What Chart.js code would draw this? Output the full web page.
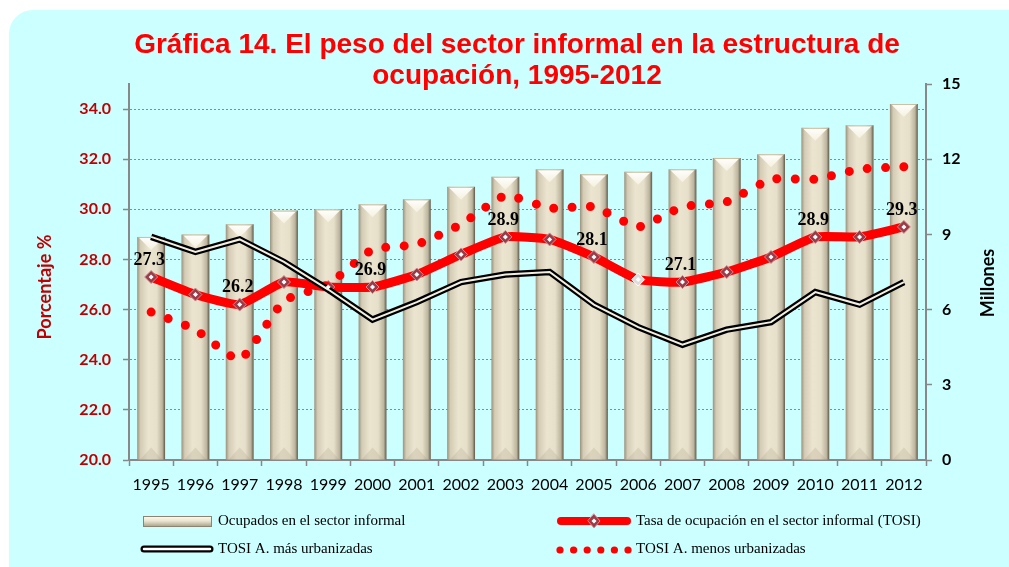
<!DOCTYPE html>
<html><head><meta charset="utf-8">
<script src="https://cdn.jsdelivr.net/npm/chart.js@4.4.1/dist/chart.umd.min.js"></script>
<style>html,body{margin:0;padding:0;background:#fff;}#wrap{position:relative;width:1009px;height:567px;}</style>
</head><body><div id="wrap"><canvas id="c" width="1009" height="567"></canvas></div>
<script>
const years = ['1995','1996','1997','1998','1999','2000','2001','2002','2003','2004','2005','2006','2007','2008','2009','2010','2011','2012'];
const ocupados = [8.9, 9.0, 9.4, 9.95, 10.0, 10.2, 10.4, 10.9, 11.3, 11.6, 11.4, 11.5, 11.6, 12.05, 12.2, 13.25, 13.35, 14.2];
const tosi = [27.3, 26.6, 26.2, 27.1, 26.9, 26.9, 27.4, 28.2, 28.9, 28.8, 28.1, 27.2, 27.1, 27.5, 28.1, 28.9, 28.9, 29.3];
const masUrbanizadas = [28.9, 28.3, 28.8, 27.9, 26.8, 25.6, 26.3, 27.1, 27.4, 27.5, 26.2, 25.3, 24.6, 25.2, 25.5, 26.7, 26.2, 27.1];
const menosUrbanizadas = [25.9, 25.2, 24.0, 26.35, 27.0, 28.4, 28.6, 29.4, 30.55, 30.05, 30.1, 29.3, 30.1, 30.3, 31.2, 31.2, 31.6, 31.7];
const labeledYears = ['1995','1997','2000','2003','2005','2007','2010','2012'];
const leftTicks = [20, 22, 24, 26, 28, 30, 32, 34];
const rightTicks = [0, 3, 6, 9, 12, 15];
const titleLines = ['Gráfica 14. El peso del sector informal en la estructura de', 'ocupación, 1995-2012'];

const panelPlugin = {
  id: 'panel',
  beforeDraw(chart) {
    const c = chart.ctx;
    c.save();
    c.fillStyle = '#ffffff';
    c.fillRect(0, 0, chart.width, chart.height);
    c.fillStyle = '#CCFFFF';
    c.beginPath();
    c.roundRect(9, 10, 1040, 620, 24);
    c.fill();
    c.restore();
  }
};

const bevelPlugin = {
  id: 'bevel',
  afterDatasetDraw(chart, args) {
    if (args.meta.type !== 'bar') return;
    const c = chart.ctx;
    c.save();
    args.meta.data.forEach(el => {
      const p = el.getProps(['x', 'y', 'width', 'base'], true);
      const l = p.x - p.width / 2, r = p.x + p.width / 2;
      const g = c.createLinearGradient(0, p.y, 0, p.y + 13);
      g.addColorStop(0, '#ffffff');
      g.addColorStop(1, 'rgba(255,253,240,0.55)');
      c.fillStyle = g;
      c.beginPath();
      c.moveTo(l + 2, p.y + 1);
      c.lineTo(r - 2, p.y + 1);
      c.lineTo(p.x, p.y + 13);
      c.closePath();
      c.fill();
      c.strokeStyle = 'rgba(200,190,160,0.9)';
      c.lineWidth = 1;
      c.beginPath();
      c.moveTo(l + 1, p.y + 0.5);
      c.lineTo(r - 1, p.y + 0.5);
      c.stroke();
      c.fillStyle = 'rgba(150,140,110,0.18)';
      c.beginPath();
      c.moveTo(l + 3, p.base);
      c.lineTo(p.x, p.base - 12);
      c.lineTo(r - 3, p.base);
      c.closePath();
      c.fill();
    });
    c.restore();
  }
};

const labelPlugin = {
  id: 'valueLabels',
  afterDatasetsDraw(chart) {
    const c = chart.ctx;
    const idx = chart.data.datasets.findIndex(d => d.id === 'tosi');
    const meta = chart.getDatasetMeta(idx);
    c.save();
    meta.data.forEach(pt => {
      c.fillStyle = '#ffffff';
      c.beginPath();
      c.moveTo(pt.x, pt.y - 2.5); c.lineTo(pt.x + 2.5, pt.y); c.lineTo(pt.x, pt.y + 2.5); c.lineTo(pt.x - 2.5, pt.y);
      c.closePath(); c.fill();
    });
    c.font = 'bold 18px "Liberation Serif", "Times New Roman", serif';
    c.fillStyle = '#000';
    c.textAlign = 'center';
    c.textBaseline = 'middle';
    chart.data.labels.forEach((lab, i) => {
      if (!labeledYears.includes(lab)) return;
      const pt = meta.data[i];
      c.fillText(chart.data.datasets[idx].data[i].toFixed(1), pt.x - 2, pt.y - 17);
    });
    c.restore();
  }
};

const axisTitlePlugin = {
  id: 'axisTitles',
  afterDraw(chart) {
    const c = chart.ctx;
    const o = chart.options.scales;
    c.save();
    c.textAlign = 'center';
    c.textBaseline = 'middle';
    c.font = 'bold 18px Lato, "Liberation Sans", sans-serif';
    c.fillStyle = '#C00000';
    c.translate(45, 287); c.rotate(-Math.PI / 2);
    c.fillText(o.y.title.text, 0, 0);
    c.restore();
    c.save();
    c.textAlign = 'center';
    c.textBaseline = 'middle';
    c.font = 'bold 18px Lato, "Liberation Sans", sans-serif';
    c.fillStyle = '#000';
    c.translate(988, 283); c.rotate(-Math.PI / 2);
    c.fillText(o.y2.title.text, 0, 0);
    c.restore();
  }
};

const legendPlugin = {
  id: 'customLegend',
  afterDraw(chart) {
    const c = chart.ctx;
    const ds = chart.data.datasets;
    const byId = id => ds.find(d => d.id === id);
    c.save();
    const g = c.createLinearGradient(0, 516, 0, 527);
    g.addColorStop(0, '#fffdf4'); g.addColorStop(0.45, '#ebe4cf'); g.addColorStop(1, '#a39b85');
    c.fillStyle = g; c.fillRect(143, 516, 69, 11);
    c.strokeStyle = '#8c8470'; c.lineWidth = 1; c.strokeRect(143.5, 516.5, 68, 10);
    c.strokeStyle = '#FF0000'; c.lineWidth = 8; c.lineCap = 'round';
    c.beginPath(); c.moveTo(561, 521); c.lineTo(627, 521); c.stroke();
    c.fillStyle = '#9a3c48'; c.strokeStyle = '#d09098'; c.lineWidth = 1;
    c.beginPath(); c.moveTo(594, 514); c.lineTo(600, 521); c.lineTo(594, 528); c.lineTo(588, 521); c.closePath(); c.fill(); c.stroke();
    c.fillStyle = '#fff';
    c.beginPath(); c.moveTo(594, 518.5); c.lineTo(596.5, 521); c.lineTo(594, 523.5); c.lineTo(591.5, 521); c.closePath(); c.fill();
    c.lineCap = 'round';
    c.strokeStyle = '#000'; c.lineWidth = 7;
    c.beginPath(); c.moveTo(144, 549); c.lineTo(210, 549); c.stroke();
    c.strokeStyle = '#ffffff'; c.lineWidth = 2.5;
    c.beginPath(); c.moveTo(144, 549); c.lineTo(210, 549); c.stroke();
    c.fillStyle = '#FF0000';
    for (let k = 0; k < 6; k++) { c.beginPath(); c.arc(560 + k * 13.6, 550, 3.6, 0, Math.PI * 2); c.fill(); }
    c.font = '15px "Liberation Serif", "Times New Roman", serif';
    c.fillStyle = '#000'; c.textAlign = 'left'; c.textBaseline = 'middle';
    c.fillText(byId('ocupados').label, 218, 521);
    c.fillText(byId('tosi').label, 636, 521);
    c.fillText(byId('mas').label, 218, 549);
    c.fillText(byId('menos').label, 636, 549);
    c.restore();
  }
};

function barFill(ctx) {
  const chart = ctx.chart;
  const xs = chart.scales.x;
  if (!xs || ctx.type !== 'data' || !chart.chartArea) return '#e6dfc8';
  const cx = xs.getPixelForValue(ctx.dataIndex);
  const w = (xs.width / chart.data.labels.length) * 0.63;
  const g = chart.ctx.createLinearGradient(cx - w / 2, 0, cx + w / 2, 0);
  g.addColorStop(0, '#9a927e');
  g.addColorStop(0.12, '#d4ccb5');
  g.addColorStop(0.4, '#ebe4cf');
  g.addColorStop(0.7, '#e6dfc9');
  g.addColorStop(0.9, '#bdb59e');
  g.addColorStop(1, '#5f5848');
  return g;
}

new Chart(document.getElementById('c'), {
  data: {
    labels: years,
    datasets: [
      { id: 'masInner', type: 'line', label: 'TOSI A. más urbanizadas (interior)', data: masUrbanizadas, yAxisID: 'y',
        borderColor: '#F3EFE2', borderWidth: 2, pointRadius: 0, tension: 0, order: 1 },
      { id: 'mas', type: 'line', label: 'TOSI A. más urbanizadas', data: masUrbanizadas, yAxisID: 'y',
        borderColor: '#000000', borderWidth: 6.5, pointRadius: 0, tension: 0, order: 2 },
      { id: 'menos', type: 'line', label: 'TOSI A. menos urbanizadas', data: menosUrbanizadas, yAxisID: 'y',
        borderColor: '#FF0000', borderWidth: 9, borderDash: [0, 18.3], borderCapStyle: 'round', pointRadius: 0, tension: 0.15, order: 3 },
      { id: 'tosi', type: 'line', label: 'Tasa de ocupación en el sector informal (TOSI)', data: tosi, yAxisID: 'y',
        borderColor: '#FF0000', borderWidth: 9, borderCapStyle: 'round', tension: 0.15,
        pointStyle: 'rectRot', pointRadius: 6.5,
        pointBackgroundColor: c => (c.dataIndex === 11 ? '#dcdcdc' : '#9a3c48'),
        pointBorderColor: c => (c.dataIndex === 11 ? '#ffffff' : '#cf8e96'), pointBorderWidth: 1, order: 4 },
      { id: 'ocupados', type: 'bar', label: 'Ocupados en el sector informal', data: ocupados, yAxisID: 'y2',
        backgroundColor: barFill, borderWidth: 0, barPercentage: 0.63, categoryPercentage: 1.0, order: 5 }
    ]
  },
  options: {
    responsive: false,
    animation: false,
    devicePixelRatio: 1,
    layout: { padding: { left: 25, right: 0, top: 0, bottom: 67 } },
    plugins: {
      legend: { display: false },
      tooltip: { enabled: false },
      title: {
        display: true, text: titleLines, color: '#FF0000',
        font: { family: '"Liberation Sans", Arial, sans-serif', size: 28, weight: 'bold', lineHeight: 1.1 },
        padding: { top: 30, bottom: -7.6 }
      }
    },
    scales: {
      x: {
        type: 'category', offset: true,
        afterFit: s => { s.height = 40; },
        grid: { display: true, drawOnChartArea: false, offset: true, tickLength: 6, tickColor: '#888', tickWidth: 1.5 },
        border: { color: '#888', width: 2 },
        ticks: { color: '#000', font: { family: 'Lato, "Liberation Sans", sans-serif', size: 16 }, padding: 9, maxRotation: 0, autoSkip: false }
      },
      y: {
        type: 'linear', position: 'left', min: 20, max: 35,
        afterFit: s => { s.width = 104; },
        afterBuildTicks: s => { s.ticks = leftTicks.map(v => ({ value: v })); },
        title: { display: false, text: 'Porcentaje %' },
        grid: { color: '#8a8a8a', lineWidth: 1, borderDash: [2, 2], tickLength: 6, tickColor: '#888', tickWidth: 1.5, tickBorderDash: [] },
        border: { color: '#888', width: 2, dash: [2, 2] },
        ticks: { color: '#C00000', font: { family: 'Lato, "Liberation Sans", sans-serif', size: 16, weight: 'bold' }, padding: 12,
          callback: v => Number(v).toFixed(1) }
      },
      y2: {
        type: 'linear', position: 'right', min: 0, max: 15,
        afterFit: s => { s.width = 83; },
        afterBuildTicks: s => { s.ticks = rightTicks.map(v => ({ value: v })); },
        title: { display: false, text: 'Millones' },
        grid: { drawOnChartArea: false, tickLength: 6, tickColor: '#888', tickWidth: 1.5 },
        border: { color: '#888', width: 2 },
        ticks: { color: '#000', font: { family: 'Lato, "Liberation Sans", sans-serif', size: 16, weight: 'bold' }, padding: 10 }
      }
    }
  },
  plugins: [panelPlugin, bevelPlugin, labelPlugin, axisTitlePlugin, legendPlugin]
});
</script>
</body></html>
